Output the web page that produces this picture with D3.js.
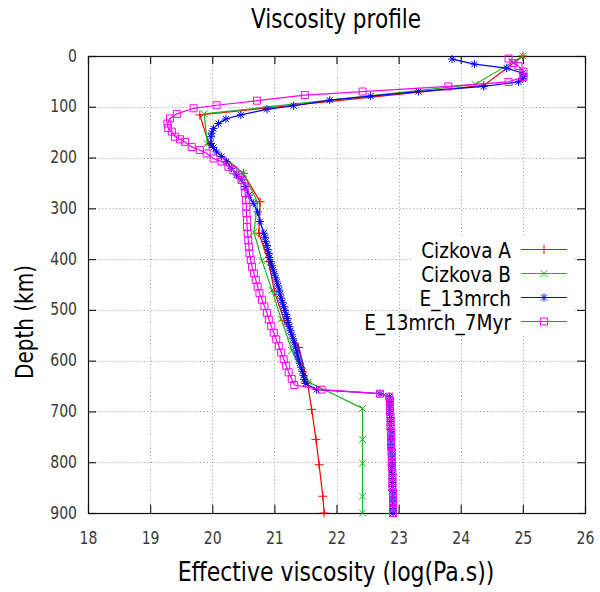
<!DOCTYPE html>
<html><head><meta charset="utf-8">
<script src="https://cdn.jsdelivr.net/npm/d3@7"></script>
<style>body{margin:0;background:#fff}svg{display:block}text{font-family:"DejaVu Sans",sans-serif}</style>
</head><body><svg id="c" width="600" height="592"></svg>
<script>
// ---------- data ----------
const xTicks = [18, 19, 20, 21, 22, 23, 24, 25, 26];
const yTicks = [0, 100, 200, 300, 400, 500, 600, 700, 800, 900];
const seriesNames = ["Cizkova A", "Cizkova B", "E_13mrch", "E_13mrch_7Myr"];

const depthA = [0, 58, 116, 175, 231, 287, 349, 405, 464, 521, 574, 642, 696, 755, 805, 867, 900];
const viscA  = [25.0, 24.37, 19.80, 19.95, 20.50, 20.77, 20.75, 20.91, 21.00, 21.16, 21.39, 21.53, 21.60, 21.67, 21.72, 21.78, 21.80];

const depthB = [0, 56, 114, 173, 231, 288, 347, 403, 461, 518, 580, 642, 694, 755, 802, 867, 900];
const viscB  = [25.0, 24.23, 19.87, 19.92, 20.50, 20.73, 20.67, 20.80, 20.96, 21.11, 21.28, 21.55, 22.42, 22.42, 22.42, 22.42, 22.42];

const depthC = [6, 16, 24, 34, 40, 45, 51, 60, 70, 79, 87, 98, 105, 116, 124, 133, 143, 152, 159, 172, 180, 189, 198, 208, 221, 234, 244, 257, 274, 290, 307, 326, 349,
  357, 365, 373, 381, 389, 397, 405, 413, 421, 429, 437, 445, 453, 461, 469, 477, 485, 493, 501, 509, 517, 525, 533, 541, 549, 557, 565, 573, 581, 589, 597, 605, 613, 621, 629, 637, 645, 657, 665, 671,
  680, 688, 696, 704, 712, 720, 728, 736, 744, 752, 760, 768, 776, 784, 792, 800, 808, 816, 824, 832, 840, 848, 856, 864, 872, 880, 888, 896, 900];
const viscC  = [23.86, 24.22, 24.74, 25.00, 25.01, 25.00, 24.93, 24.37, 23.32, 22.55, 21.89, 21.31, 20.88, 20.46, 20.22, 20.10, 20.02, 19.99, 19.98, 19.98, 20.02, 20.07, 20.15, 20.23, 20.31, 20.39, 20.47, 20.53, 20.59, 20.66, 20.73, 20.77, 20.83,
  20.85, 20.86, 20.88, 20.89, 20.91, 20.92, 20.94, 20.96, 20.98, 21.00, 21.02, 21.04, 21.06, 21.08, 21.09, 21.11, 21.13, 21.15, 21.17, 21.19, 21.21, 21.22, 21.24, 21.26, 21.28, 21.30, 21.32, 21.34, 21.36, 21.37, 21.39, 21.41, 21.43, 21.45, 21.47, 21.48, 21.50, 21.68, 22.70, 22.85,
  22.86, 22.86, 22.86, 22.86, 22.87, 22.87, 22.87, 22.87, 22.88, 22.88, 22.88, 22.88, 22.88, 22.89, 22.89, 22.89, 22.89, 22.89, 22.90, 22.90, 22.90, 22.90, 22.90, 22.91, 22.91, 22.91, 22.91, 22.91, 22.91];

const depthD = [5, 14, 20, 31, 41, 51, 60, 70, 77, 88, 97, 103, 114, 123, 133, 142, 149, 159, 164, 169, 179, 185, 192, 202, 208, 218, 225, 234, 244, 257, 270, 284, 297, 310, 323, 337, 350, 363, 376, 389, 402, 415, 428, 441, 454, 467, 480, 493, 506, 519, 532, 545, 558, 571, 584, 597, 610, 623, 636, 648, 657, 665, 671,
  680, 690, 700, 710, 720, 730, 740, 750, 760, 770, 780, 790, 800, 810, 820, 830, 840, 850, 860, 870, 880, 890, 900];
const viscD  = [24.77, 24.85, 24.93, 25.01, 25.01, 24.77, 23.80, 22.42, 21.49, 20.72, 20.07, 19.70, 19.43, 19.32, 19.28, 19.29, 19.35, 19.40, 19.48, 19.56, 19.67, 19.80, 19.91, 20.02, 20.15, 20.26, 20.34, 20.42, 20.47, 20.52, 20.53, 20.54, 20.55, 20.55, 20.56, 20.56, 20.57, 20.58, 20.59, 20.60, 20.62, 20.64, 20.67, 20.70, 20.73, 20.76, 20.80, 20.84, 20.88, 20.91, 20.95, 20.99, 21.03, 21.07, 21.11, 21.15, 21.19, 21.23, 21.28, 21.32, 21.76, 22.70, 22.85,
  22.86, 22.86, 22.86, 22.87, 22.87, 22.87, 22.88, 22.88, 22.88, 22.88, 22.89, 22.89, 22.89, 22.89, 22.90, 22.90, 22.90, 22.90, 22.91, 22.91, 22.91, 22.91, 22.91];

// ---------- styles ----------
const colors = ["#ff0000", "#20b020", "#0000ff", "#ff00ff"];
const markerTypes = ["plus", "cross", "star", "square"];

const svg = d3.select("#c");
svg.append("rect").attr("width", 600).attr("height", 592).attr("fill", "#fff");

const x = d3.scaleLinear().domain([18, 26]).range([88, 585]);
const y = d3.scaleLinear().domain([0, 900]).range([56, 513]);
const [x0, x1] = x.range(), [y0, y1] = y.range();

// grid
const grid = svg.append("g").attr("stroke", "#9a9a9a").attr("stroke-width", 1).attr("stroke-dasharray", "1,2.5");
grid.selectAll("line.v").data(xTicks.slice(1, -1)).join("line")
  .attr("x1", d => Math.round(x(d)) + 0.5).attr("x2", d => Math.round(x(d)) + 0.5).attr("y1", y0).attr("y2", y1);
grid.selectAll("line.h").data(yTicks.slice(1, -1)).join("line")
  .attr("x1", x0).attr("x2", x1).attr("y1", d => Math.round(y(d)) + 0.5).attr("y2", d => Math.round(y(d)) + 0.5);

// legend background (opaque key)
svg.append("rect").attr("x", 413).attr("y", 236).attr("width", 160).attr("height", 98).attr("fill", "#fff");

// axes with inward ticks
function styleAxis(g) {
  g.select(".domain").remove();
  g.selectAll(".tick line").attr("stroke", "#222").attr("stroke-width", 1.2);
  g.selectAll(".tick text").attr("fill", "#3a3a3a").attr("font-size", 18)
    .attr("font-family", '"DejaVu Sans",sans-serif');
}
const axB = svg.append("g").attr("transform", `translate(0,${y1})`)
  .call(d3.axisBottom(x).tickValues(xTicks).tickSize(-8).tickPadding(0).tickFormat(d3.format("d")));
styleAxis(axB);
axB.selectAll(".tick text").attr("y", null).attr("dy", null).attr("transform", "translate(0,31) scale(0.78,1)");

const axL = svg.append("g").attr("transform", `translate(${x0},0)`)
  .call(d3.axisLeft(y).tickValues(yTicks).tickSize(-8).tickPadding(0).tickFormat(d3.format("d")));
styleAxis(axL);
axL.selectAll(".tick text").attr("x", null).attr("dy", null).attr("transform", "translate(-11,5) scale(0.78,1)");

const axT = svg.append("g").attr("transform", `translate(0,${y0})`)
  .call(d3.axisTop(x).tickValues(xTicks).tickSize(-8).tickFormat(""));
styleAxis(axT);
const axR = svg.append("g").attr("transform", `translate(${x1},0)`)
  .call(d3.axisRight(y).tickValues(yTicks).tickSize(-8).tickFormat(""));
styleAxis(axR);

// frame
svg.append("rect").attr("x", x0 + 0.5).attr("y", y0 + 0.5).attr("width", x1 - x0).attr("height", y1 - y0)
  .attr("fill", "none").attr("stroke", "#111").attr("stroke-width", 1.2);

// marker path
function markerPath(type, cx, cy) {
  if (type === "plus") return `M${cx - 4.5},${cy}h9M${cx},${cy - 4.5}v9`;
  if (type === "cross") return `M${cx - 3.5},${cy - 3.5}l7,7M${cx - 3.5},${cy + 3.5}l7,-7`;
  if (type === "star") return `M${cx - 4},${cy}h8M${cx},${cy - 4}v8M${cx - 3},${cy - 3}l6,6M${cx - 3},${cy + 3}l6,-6`;
  return `M${cx - 3.5},${cy - 3.5}h7v7h-7z`;
}

const series = [
  {d: depthA, v: viscA}, {d: depthB, v: viscB}, {d: depthC, v: viscC}, {d: depthD, v: viscD}
].map((s, i) => ({name: seriesNames[i], pts: s.d.map((dd, k) => [s.v[k], dd])}));

const line = d3.line().x(p => x(p[0])).y(p => y(p[1]));
series.forEach((s, i) => {
  const g = svg.append("g");
  g.append("path").attr("d", line(s.pts)).attr("fill", "none").attr("stroke", colors[i]).attr("stroke-width", 1.2);
  g.append("path").attr("d", s.pts.map(p => markerPath(markerTypes[i], x(p[0]), y(p[1]))).join(""))
    .attr("fill", "none").attr("stroke", colors[i]).attr("stroke-width", 1);
});

// legend
const legendY = [249.5, 273.5, 297.5, 321.5];
series.forEach((s, i) => {
  const ly = legendY[i];
  svg.append("text").attr("transform", `translate(511,${ly + 8}) scale(0.84,1)`).attr("text-anchor", "end")
    .attr("font-size", 22).attr("fill", "#000").text(s.name);
  svg.append("line").attr("x1", 521).attr("x2", 567).attr("y1", ly).attr("y2", ly)
    .attr("stroke", colors[i]).attr("stroke-width", 1.2);
  svg.append("path").attr("d", markerPath(markerTypes[i], 544, ly)).attr("fill", "none")
    .attr("stroke", colors[i]).attr("stroke-width", 1);
});

// titles
svg.append("text").attr("transform", "translate(336,28) scale(0.83,1)").attr("text-anchor", "middle")
  .attr("font-size", 26).attr("fill", "#000").text("Viscosity profile");
svg.append("text").attr("transform", "translate(336,581) scale(0.845,1)").attr("text-anchor", "middle")
  .attr("font-size", 26).attr("fill", "#000").text("Effective viscosity (log(Pa.s))");
svg.append("text").attr("transform", "translate(33,322) rotate(-90) scale(0.8,1)").attr("text-anchor", "middle")
  .attr("font-size", 25).attr("fill", "#000").text("Depth (km)");
</script></body></html>
